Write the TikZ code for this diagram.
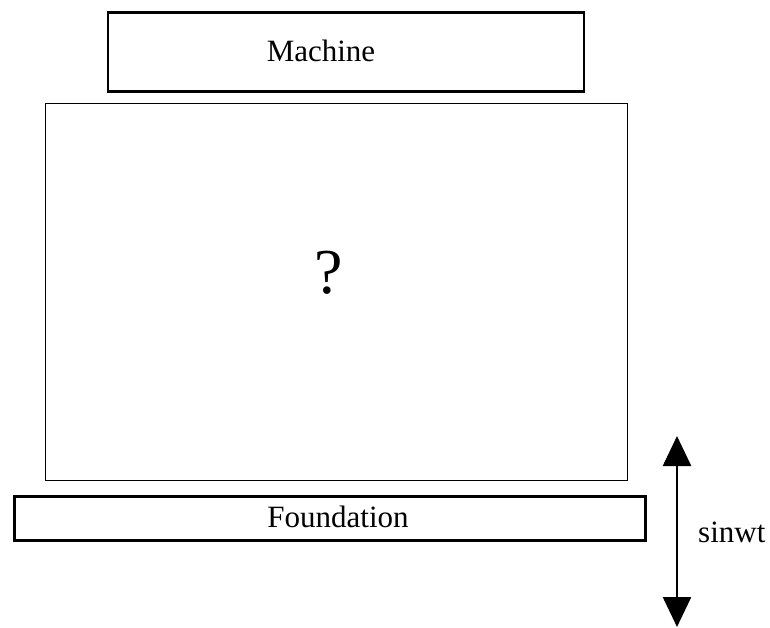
\documentclass[tikz,border=0pt]{standalone}
\usepackage{fontspec}
\setmainfont{Liberation Serif}
\usetikzlibrary{arrows.meta}
\tikzset{
  block/.style={draw=black, rectangle, inner sep=0pt},
  label text/.style={font=\fontsize{31}{36}\selectfont, inner sep=0pt},
  bigtip/.tip={Triangle[width=28pt,length=30pt]}
}
\begin{document}
\begin{tikzpicture}[x=1pt,y=-1pt]
\useasboundingbox (0,0) rectangle (770,628);

% machine on top
\node[block, line width=2.5pt, minimum width=476pt, minimum height=79pt] (machine) at (346,52) {};
\node[label text] (machinetxt) at (321,51) {Machine};

% unknown isolation layer
\node[block, line width=0.9pt, minimum width=582pt, minimum height=377pt] (unknown) at (336,291.5) {};
\node[font=\fontsize{64}{70}\selectfont, inner sep=0pt] (qmark) at (329,273) {?};

% foundation slab
\node[block, line width=3pt, minimum width=631pt, minimum height=44pt] (foundation) at (330,518) {};
\node[label text] (foundtxt) at (338,517) {Foundation};

% harmonic excitation
\coordinate (exctop) at (677,436);
\coordinate (excbot) at (677,627);
\draw[line width=2.5pt, bigtip-bigtip] (excbot) -- (exctop);
\node[label text, anchor=base west] (exc) at (698,542) {sinwt};
\end{tikzpicture}
\end{document}
